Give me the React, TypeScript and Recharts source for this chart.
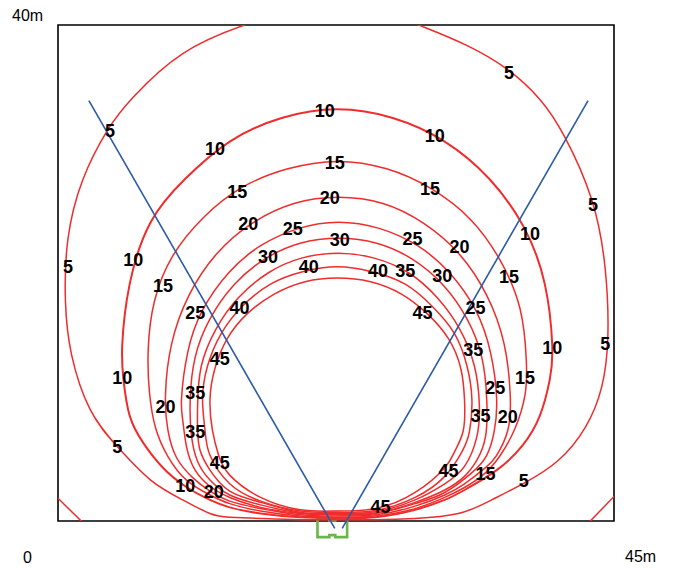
import React from 'react';
import { ComposedChart, Line, Scatter, XAxis, YAxis, ReferenceLine, ReferenceArea } from 'recharts';

type Pt = [number, number];

// sound-level contours in metres, traced from the source at the bottom centre
const level5: Pt[] = [[22.4,0.1],[19.6,0.1],[16.4,0.2],[13.9,0.3],[12.3,0.6],[10.1,1.7],[7.5,3.3],[4.8,6.0],[2.6,9.0],[1.1,13.4],[0.6,17.8],[0.8,22.7],[2.0,27.5],[4.0,31.5],[6.1,34.2],[10.1,37.7],[15.1,40.0],[18.8,41.0],[22.5,41.3],[26.1,41.0],[29.7,39.8],[33.2,38.3],[36.4,36.4],[39.0,34.0],[41.0,31.0],[43.2,25.9],[44.3,20.2],[44.5,14.8],[44.0,10.8],[42.7,7.6],[40.5,4.9],[37.8,3.1],[35.1,1.7],[32.4,0.6],[28.9,0.2],[25.7,0.1],[22.4,0.1]];
const level10: Pt[] = [[22.4,0.25],[19.6,0.3],[16.4,0.6],[13.9,1.1],[12.3,1.7],[10.3,2.8],[8.4,4.4],[6.9,6.3],[5.8,8.5],[5.3,11.4],[5.2,14.2],[5.8,19.1],[7.5,24.1],[10.3,27.6],[13.9,30.6],[18.1,32.5],[22.6,33.2],[27.1,32.5],[31.3,30.6],[34.9,27.6],[37.7,23.7],[39.4,19.1],[40.0,14.2],[39.8,11.4],[39.0,8.5],[37.6,6.1],[35.5,4.1],[32.9,2.5],[31.3,1.7],[28.9,0.9],[25.7,0.3],[22.4,0.25]];
const level15: Pt[] = [[22.4,0.3],[19.6,0.4],[16.4,0.8],[13.9,1.4],[12.3,2.1],[10.4,3.3],[8.9,5.2],[7.9,7.5],[7.4,10.4],[7.3,13.8],[7.8,17.7],[9.3,21.4],[11.8,24.5],[14.9,26.9],[18.6,28.4],[22.6,29.0],[26.6,28.4],[30.2,26.8],[33.4,24.3],[35.8,21.0],[37.4,17.1],[37.9,13.0],[37.8,10.2],[37.0,7.5],[35.8,5.3],[34.5,3.8],[32.9,2.7],[31.3,1.9],[28.9,1.0],[25.7,0.4],[22.4,0.3]];
const level20: Pt[] = [[22.4,0.4],[19.6,0.5],[16.4,1.0],[13.9,1.6],[12.3,2.4],[10.9,3.5],[9.6,5.1],[8.9,7.3],[8.7,10.2],[9.2,14.3],[10.6,18.2],[12.8,21.5],[15.7,24.0],[19.1,25.6],[22.7,26.1],[26.3,25.6],[29.6,24.0],[32.5,21.5],[34.7,18.2],[36.1,14.3],[36.6,10.2],[36.4,7.3],[35.5,5.3],[34.6,4.3],[32.9,3.0],[31.3,2.1],[28.9,1.2],[25.7,0.5],[22.4,0.4]];
const level25: Pt[] = [[22.4,0.5],[19.6,0.6],[16.4,1.1],[13.9,1.9],[12.3,2.8],[11.1,4.1],[10.4,6.0],[10.1,8.1],[10.0,9.9],[10.5,13.6],[11.7,17.0],[13.8,20.0],[16.4,22.2],[19.5,23.6],[22.7,24.1],[26.0,23.6],[29.1,22.2],[31.7,20.0],[33.8,17.0],[35.0,13.6],[35.5,9.9],[35.3,7.2],[34.7,5.3],[33.5,3.9],[31.3,2.3],[28.9,1.4],[25.7,0.6],[22.4,0.5]];
const level30: Pt[] = [[22.4,0.55],[19.6,0.65],[16.4,1.3],[13.9,2.1],[12.3,3.3],[11.3,4.8],[10.8,6.9],[10.7,9.8],[11.1,13.2],[12.3,16.3],[14.2,19.0],[16.7,21.1],[19.6,22.4],[22.7,22.8],[25.8,22.4],[28.7,21.1],[31.2,19.0],[33.1,16.3],[34.3,13.2],[34.7,9.8],[34.6,6.8],[33.9,4.9],[32.9,3.6],[31.3,2.5],[28.9,1.5],[25.7,0.65],[22.4,0.55]];
const level35: Pt[] = [[22.4,0.6],[19.6,0.7],[16.4,1.5],[13.9,2.4],[12.3,4.1],[11.5,5.7],[11.3,7.3],[11.3,9.4],[11.6,12.5],[12.8,15.5],[14.6,18.0],[17.0,20.0],[19.7,21.2],[22.7,21.6],[25.6,21.2],[28.4,20.0],[30.7,18.0],[32.5,15.5],[33.7,12.5],[34.1,9.4],[33.9,6.8],[32.9,4.4],[31.3,3.0],[28.9,1.7],[25.7,0.75],[22.4,0.6]];
const level40: Pt[] = [[22.4,0.7],[19.6,0.8],[16.4,1.6],[13.9,3.0],[12.3,5.3],[11.9,7.3],[11.7,9.8],[12.1,12.5],[13.2,15.1],[14.9,17.3],[17.2,19.1],[19.8,20.1],[22.6,20.5],[25.4,20.1],[28.1,19.1],[30.3,17.3],[32.1,15.1],[33.1,12.5],[33.5,9.8],[33.3,7.2],[32.7,5.6],[31.3,3.6],[28.9,1.9],[25.7,0.85],[22.4,0.7]];
const level45: Pt[] = [[22.4,0.8],[19.6,0.9],[16.4,1.9],[13.9,3.7],[13.0,5.3],[12.5,7.3],[12.3,9.8],[12.7,12.3],[13.7,14.7],[15.3,16.7],[17.5,18.3],[20.0,19.3],[22.6,19.6],[25.3,19.3],[27.8,18.3],[29.9,16.7],[31.6,14.7],[32.6,12.3],[32.9,9.8],[32.8,7.3],[32.1,5.6],[31.3,4.3],[28.9,2.3],[25.7,1.0],[22.4,0.8]];

// neighbouring source contours that cut the bottom corners
const cornerLeft: Pt[] = [[-1.1,2.9],[2.6,-0.7]];
const cornerRight: Pt[] = [[45.9,2.9],[42.4,-0.7]];

const contours = [level5, level10, level15, level20, level25, level30, level35, level40, level45, cornerLeft, cornerRight];

const contourLabels = [
  { t: '5', x: 4.2, y: 31.5 }, { t: '5', x: 36.5, y: 36.2 }, { t: '5', x: 0.8, y: 20.5 }, { t: '5', x: 43.3, y: 25.5 },
  { t: '5', x: 44.3, y: 14.3 }, { t: '5', x: 4.8, y: 6.0 }, { t: '5', x: 37.7, y: 3.3 },
  { t: '10', x: 21.6, y: 33.1 }, { t: '10', x: 30.5, y: 31.1 }, { t: '10', x: 12.7, y: 30.0 }, { t: '10', x: 6.1, y: 21.1 },
  { t: '10', x: 38.2, y: 23.2 }, { t: '10', x: 5.2, y: 11.6 }, { t: '10', x: 40.0, y: 14.0 }, { t: '10', x: 10.3, y: 2.9 },
  { t: '15', x: 22.4, y: 28.9 }, { t: '15', x: 14.5, y: 26.6 }, { t: '15', x: 30.1, y: 26.8 }, { t: '15', x: 8.5, y: 19.0 },
  { t: '15', x: 36.5, y: 19.7 }, { t: '15', x: 37.8, y: 11.6 }, { t: '15', x: 34.6, y: 3.8 },
  { t: '20', x: 22.0, y: 26.1 }, { t: '20', x: 15.4, y: 24.0 }, { t: '20', x: 32.5, y: 22.1 }, { t: '20', x: 8.7, y: 9.2 },
  { t: '20', x: 12.6, y: 2.4 }, { t: '20', x: 36.4, y: 8.4 },
  { t: '25', x: 19.0, y: 23.6 }, { t: '25', x: 28.7, y: 22.8 }, { t: '25', x: 11.1, y: 16.8 }, { t: '25', x: 33.8, y: 17.2 },
  { t: '25', x: 35.4, y: 10.8 },
  { t: '30', x: 22.8, y: 22.7 }, { t: '30', x: 17.0, y: 21.3 }, { t: '30', x: 31.1, y: 19.8 },
  { t: '35', x: 28.1, y: 20.2 }, { t: '35', x: 11.1, y: 10.4 }, { t: '35', x: 11.1, y: 7.2 }, { t: '35', x: 33.6, y: 13.8 },
  { t: '35', x: 34.2, y: 8.5 },
  { t: '40', x: 20.3, y: 20.5 }, { t: '40', x: 25.9, y: 20.2 }, { t: '40', x: 14.7, y: 17.2 },
  { t: '45', x: 13.1, y: 13.1 }, { t: '45', x: 13.1, y: 4.7 }, { t: '45', x: 29.5, y: 16.8 }, { t: '45', x: 31.6, y: 4.1 },
  { t: '45', x: 26.1, y: 1.2 },
];

// coverage edges of the sensor
const beamLeft: Pt[] = [[2.5, 33.9], [22.4, -0.6]];
const beamRight: Pt[] = [[42.9, 33.9], [23.0, -0.6]];

const sensorX: Pt = [21.0, 23.4];
const sensorY: Pt = [-1.3, 0.2];

const RED = '#f02c2c';
const BLUE = '#2b5ba8';
const GREEN = '#6ab547';
const FONT = '"Liberation Sans", Arial, sans-serif';

const LabelShape = (props: any) => {
  const { cx, cy, payload } = props;
  return (
    <text x={cx} y={cy} dy="0.36em" textAnchor="middle" fontSize={18} fontWeight="bold" fontFamily={FONT} fill="#000">
      {payload.t}
    </text>
  );
};

const SensorShape = (props: any) => {
  const { x, y, width: w, height: h } = props;
  const d = `M${x},${y} H${x + w * 0.4} V${y + 2} H${x + w * 0.6} V${y} H${x + w} V${y + h} H${x + w * 0.6} V${y + h - 2} H${x + w * 0.4} V${y + h} H${x} Z`;
  return <path d={d} fill="none" stroke={GREEN} strokeWidth={2.6} />;
};

const App = () => {
  return (
    <div style={{ position: 'absolute', left: 0, top: 0, width: 673, height: 569, background: '#fff' }}>
      <ComposedChart width={673} height={569} margin={{ top: 25, right: 59, bottom: 48, left: 58 }}>
        <XAxis type="number" dataKey="x" domain={[0, 45]} allowDataOverflow hide />
        <YAxis type="number" dataKey="y" domain={[0, 40]} allowDataOverflow hide />
        <ReferenceArea x1={0} x2={45} y1={0} y2={40} fill="none" fillOpacity={0} stroke="#000" strokeWidth={1.6} ifOverflow="visible" />
        {contours.map((pts, i) => (
          <Line
            key={i}
            data={pts.map(([x, y]) => ({ x, y }))}
            dataKey="y"
            type="natural"
            stroke={RED}
            strokeWidth={i === 1 ? 2 : 1.5}
            dot={false}
            activeDot={false}
            isAnimationActive={false}
          />
        ))}
        {[beamLeft, beamRight].map((seg, i) => (
          <ReferenceLine
            key={i}
            segment={seg.map(([x, y]) => ({ x, y }))}
            stroke={BLUE}
            strokeWidth={1.6}
            ifOverflow="visible"
          />
        ))}
        <ReferenceArea x1={sensorX[0]} x2={sensorX[1]} y1={sensorY[0]} y2={sensorY[1]} ifOverflow="visible" shape={SensorShape} />
        <Scatter data={contourLabels} dataKey="y" shape={LabelShape} isAnimationActive={false} />
      </ComposedChart>
      <svg width={673} height={569} style={{ position: 'absolute', left: 0, top: 0, pointerEvents: 'none' }}>
        <text x={12} y={21} fontSize={16} fontFamily={FONT} fill="#000">40m</text>
        <text x={23} y={563} fontSize={16} fontFamily={FONT} fill="#000">0</text>
        <text x={625} y={562} fontSize={16} fontFamily={FONT} fill="#000">45m</text>
      </svg>
    </div>
  );
};

export default App;
